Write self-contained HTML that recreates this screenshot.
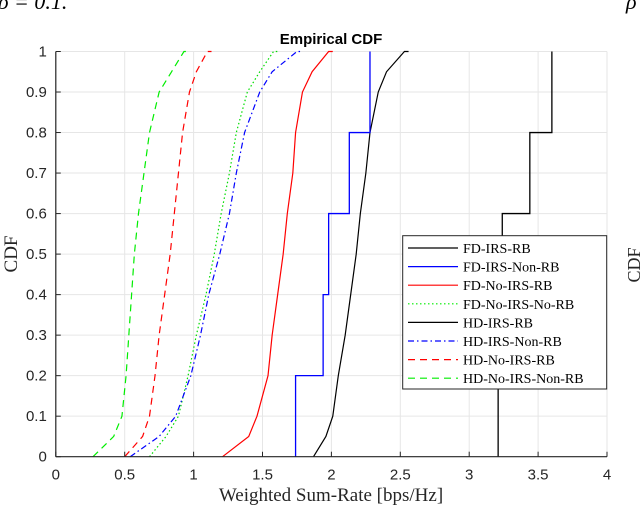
<!DOCTYPE html>
<html><head><meta charset="utf-8"><style>
html,body{margin:0;padding:0;background:#fff;width:640px;height:530px;overflow:hidden}
svg{display:block}
.tk{font-family:"Liberation Sans",sans-serif;font-size:15px;fill:#262626}
.lg{font-family:"Liberation Serif",serif;font-size:14px;fill:#000}
</style></head><body>
<svg id="chart" width="640" height="530" xmlns="http://www.w3.org/2000/svg">
<text x="-2" y="9" font-family="Liberation Serif,serif" font-size="22" font-style="italic" fill="#000">ρ = 0.1.</text>
<text x="626" y="9" font-family="Liberation Serif,serif" font-size="22" font-style="italic" fill="#000">ρ</text>
<text x="331" y="44" text-anchor="middle" font-family="Liberation Sans,sans-serif" font-weight="bold" font-size="15" fill="#000">Empirical CDF</text>
<text x="331" y="501" text-anchor="middle" font-family="Liberation Serif,serif" font-size="19" fill="#262626">Weighted Sum-Rate [bps/Hz]</text>
<text transform="translate(17,254) rotate(-90)" text-anchor="middle" font-family="Liberation Serif,serif" font-size="19" fill="#262626">CDF</text>
<text transform="translate(640,265) rotate(-90)" text-anchor="middle" font-family="Liberation Serif,serif" font-size="18" fill="#262626">CDF</text>
<g id="grid"></g><g id="series"></g><g id="axes"></g><g id="legend"></g>
</svg>
<script>
const xTicks=[0,0.5,1,1.5,2,2.5,3,3.5,4];
const yTicks=[0,0.1,0.2,0.3,0.4,0.5,0.6,0.7,0.8,0.9,1];
const probs=[0,0.05,0.1,0.2,0.3,0.4,0.5,0.6,0.7,0.8,0.9,0.95,1];
const qHDNoIRSNonRB=[0.27,0.42,0.48,0.51,0.53,0.55,0.57,0.60,0.64,0.68,0.75,0.84,0.96];
const qHDNoIRSRB=[0.50,0.63,0.68,0.72,0.75,0.79,0.83,0.86,0.89,0.92,0.97,1.02,1.13];
const qHDIRSNonRB=[0.54,0.75,0.87,0.98,1.05,1.11,1.19,1.26,1.31,1.37,1.48,1.57,1.78];
const qFDNoIRSNonRB=[0.68,0.80,0.89,0.96,1.02,1.09,1.15,1.20,1.26,1.31,1.39,1.48,1.61];
const qFDNoIRSRB=[1.21,1.40,1.46,1.54,1.57,1.61,1.65,1.68,1.72,1.74,1.79,1.86,2.01];
const qHDIRSRB=[1.87,1.96,2.01,2.05,2.10,2.14,2.18,2.21,2.25,2.28,2.34,2.40,2.56];
const stepFDIRSNonRBx=[1.74,1.94,1.98,2.13,2.28];
const stepFDIRSNonRBy=[0.2,0.4,0.6,0.8,1.0];
const stepFDIRSRBx=[3.21,3.24,3.44,3.60];
const stepFDIRSRBy=[0.4,0.6,0.8,1.0];
const legendLabels=["FD-IRS-RB","FD-IRS-Non-RB","FD-No-IRS-RB","FD-No-IRS-No-RB","HD-IRS-RB","HD-IRS-Non-RB","HD-No-IRS-RB","HD-No-IRS-Non-RB"];

const L=55.8,R=607,T=51.5,B=456.7,XMAX=4;
const X=v=>L+v/XMAX*(R-L), Y=v=>B-v*(B-T);
const NS="http://www.w3.org/2000/svg";
function mk(t,p,a){const e=document.createElementNS(NS,t);for(const k in a)e.setAttribute(k,a[k]);p.appendChild(e);return e;}
const g=document.getElementById('grid'),s=document.getElementById('series'),ax=document.getElementById('axes'),lg=document.getElementById('legend');
xTicks.forEach(v=>{const l=mk('line',g,{x1:X(v),x2:X(v),y1:T,y2:B,stroke:'#e6e6e6','stroke-width':1});


const t=mk('text',ax,{x:X(v),y:B+23,'text-anchor':'middle',class:'tk'});t.textContent=v;


mk('line',ax,{x1:X(v),x2:X(v),y1:B,y2:B-5,stroke:'#262626'});});
yTicks.forEach(v=>{const l=mk('line',g,{x1:L,x2:R,y1:Y(v),y2:Y(v),stroke:'#e6e6e6','stroke-width':1});


const t=mk('text',ax,{x:L-9,y:Y(v)+5,'text-anchor':'end',class:'tk'});t.textContent=v;


mk('line',ax,{x1:L,x2:L+5,y1:Y(v),y2:Y(v),stroke:'#262626'});});
const xa=mk('line',ax,{x1:L,x2:R,y1:B,y2:B,stroke:'#262626','stroke-width':1.2});


const ya=mk('line',ax,{x1:L,x2:L,y1:T,y2:B,stroke:'#262626','stroke-width':1.2});



function curve(q,col,dash,name){let pts=q.map((v,i)=>X(v)+','+Y(probs[i]));
pts.unshift(X(q[0])+','+Y(0));
pts[pts.length-1]=X(q[q.length-1]-0.03)+','+Y(1);
pts.push(X(q[q.length-1])+','+Y(1));
const p=mk('polyline',s,{points:pts.join(' '),fill:'none',stroke:col,'stroke-width':1.2,'stroke-dasharray':dash});

}
function steps(xs,ys,col,name){let pts=[X(xs[0])+','+Y(0)];let prev=0;
xs.forEach((x,i)=>{pts.push(X(x)+','+Y(prev));pts.push(X(x)+','+Y(ys[i]));prev=ys[i];});
const p=mk('polyline',s,{points:pts.join(' '),fill:'none',stroke:col,'stroke-width':1.3});

}
curve(qHDNoIRSNonRB,'#00ee00','7 5','line-hd-no-irs-non-rb');
curve(qHDNoIRSRB,'#ff0000','7 5','line-hd-no-irs-rb');
curve(qFDNoIRSNonRB,'#00dd00','1.5 2.5','line-fd-no-irs-no-rb');
curve(qHDIRSNonRB,'#0000ff','6 3 1.5 3','line-hd-irs-non-rb');
curve(qFDNoIRSRB,'#ff0000','','line-fd-no-irs-rb');
curve(qHDIRSRB,'#000000','','line-hd-irs-rb');
steps(stepFDIRSNonRBx,stepFDIRSNonRBy,'#0000ff','line-fd-irs-non-rb');
steps(stepFDIRSRBx,stepFDIRSRBy,'#000000','line-fd-irs-rb');

const box=mk('rect',lg,{x:402.7,y:235.7,width:204,height:153.3,fill:'#fff',stroke:'#262626','stroke-width':1});


const lcol=['#000','#0000ff','#ff0000','#00ee00','#000','#0000ff','#ff0000','#00ee00'];
const ldash=['','','','1.5 2.5','','6 3 1.5 3','7 5','7 5'];
legendLabels.forEach((lab,i)=>{const y=248+i*18.6;
const l=mk('line',lg,{x1:408,x2:458,y1:y,y2:y,stroke:lcol[i],'stroke-width':1.2,'stroke-dasharray':ldash[i]});


const t=mk('text',lg,{x:463,y:y+5,class:'lg'});t.textContent=lab;

});
</script>
</body></html>
